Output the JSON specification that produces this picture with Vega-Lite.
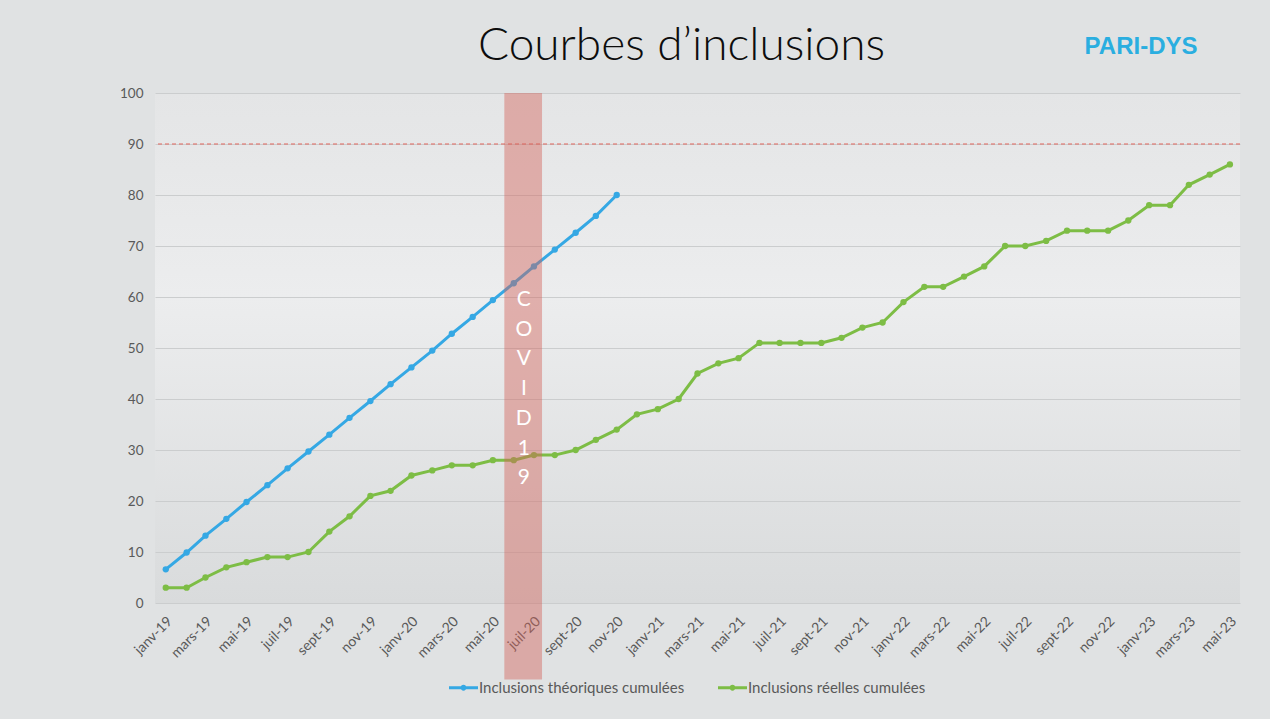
{
  "$schema": "https://vega.github.io/schema/vega-lite/v6.json",
  "width": 1085,
  "height": 510,
  "autosize": {"type": "none"},
  "padding": {"left": 155, "top": 93, "right": 30, "bottom": 116},
  "background": "#e0e2e3",
  "title": {
    "text": "Courbes d’inclusions",
    "font": "Lato",
    "fontSize": 46,
    "fontWeight": 300,
    "color": "#0d0d0d",
    "anchor": "middle",
    "frame": "group",
    "baseline": "alphabetic",
    "offset": -30,
    "dx": -16,
    "dy": 41
  },
  "datasets": {
    "courbes": [
      {"mois": "2019-01-01", "serie": "Inclusions théoriques cumulées", "valeur": 6.6},
      {"mois": "2019-02-01", "serie": "Inclusions théoriques cumulées", "valeur": 9.9},
      {"mois": "2019-03-01", "serie": "Inclusions théoriques cumulées", "valeur": 13.2},
      {"mois": "2019-04-01", "serie": "Inclusions théoriques cumulées", "valeur": 16.5},
      {"mois": "2019-05-01", "serie": "Inclusions théoriques cumulées", "valeur": 19.8},
      {"mois": "2019-06-01", "serie": "Inclusions théoriques cumulées", "valeur": 23.1},
      {"mois": "2019-07-01", "serie": "Inclusions théoriques cumulées", "valeur": 26.4},
      {"mois": "2019-08-01", "serie": "Inclusions théoriques cumulées", "valeur": 29.7},
      {"mois": "2019-09-01", "serie": "Inclusions théoriques cumulées", "valeur": 33.0},
      {"mois": "2019-10-01", "serie": "Inclusions théoriques cumulées", "valeur": 36.3},
      {"mois": "2019-11-01", "serie": "Inclusions théoriques cumulées", "valeur": 39.6},
      {"mois": "2019-12-01", "serie": "Inclusions théoriques cumulées", "valeur": 42.9},
      {"mois": "2020-01-01", "serie": "Inclusions théoriques cumulées", "valeur": 46.2},
      {"mois": "2020-02-01", "serie": "Inclusions théoriques cumulées", "valeur": 49.5},
      {"mois": "2020-03-01", "serie": "Inclusions théoriques cumulées", "valeur": 52.8},
      {"mois": "2020-04-01", "serie": "Inclusions théoriques cumulées", "valeur": 56.1},
      {"mois": "2020-05-01", "serie": "Inclusions théoriques cumulées", "valeur": 59.4},
      {"mois": "2020-06-01", "serie": "Inclusions théoriques cumulées", "valeur": 62.7},
      {"mois": "2020-07-01", "serie": "Inclusions théoriques cumulées", "valeur": 66.0},
      {"mois": "2020-08-01", "serie": "Inclusions théoriques cumulées", "valeur": 69.3},
      {"mois": "2020-09-01", "serie": "Inclusions théoriques cumulées", "valeur": 72.6},
      {"mois": "2020-10-01", "serie": "Inclusions théoriques cumulées", "valeur": 75.9},
      {"mois": "2020-11-01", "serie": "Inclusions théoriques cumulées", "valeur": 80},
      {"mois": "2019-01-01", "serie": "Inclusions réelles cumulées", "valeur": 3},
      {"mois": "2019-02-01", "serie": "Inclusions réelles cumulées", "valeur": 3},
      {"mois": "2019-03-01", "serie": "Inclusions réelles cumulées", "valeur": 5},
      {"mois": "2019-04-01", "serie": "Inclusions réelles cumulées", "valeur": 7},
      {"mois": "2019-05-01", "serie": "Inclusions réelles cumulées", "valeur": 8},
      {"mois": "2019-06-01", "serie": "Inclusions réelles cumulées", "valeur": 9},
      {"mois": "2019-07-01", "serie": "Inclusions réelles cumulées", "valeur": 9},
      {"mois": "2019-08-01", "serie": "Inclusions réelles cumulées", "valeur": 10},
      {"mois": "2019-09-01", "serie": "Inclusions réelles cumulées", "valeur": 14},
      {"mois": "2019-10-01", "serie": "Inclusions réelles cumulées", "valeur": 17},
      {"mois": "2019-11-01", "serie": "Inclusions réelles cumulées", "valeur": 21},
      {"mois": "2019-12-01", "serie": "Inclusions réelles cumulées", "valeur": 22},
      {"mois": "2020-01-01", "serie": "Inclusions réelles cumulées", "valeur": 25},
      {"mois": "2020-02-01", "serie": "Inclusions réelles cumulées", "valeur": 26},
      {"mois": "2020-03-01", "serie": "Inclusions réelles cumulées", "valeur": 27},
      {"mois": "2020-04-01", "serie": "Inclusions réelles cumulées", "valeur": 27},
      {"mois": "2020-05-01", "serie": "Inclusions réelles cumulées", "valeur": 28},
      {"mois": "2020-06-01", "serie": "Inclusions réelles cumulées", "valeur": 28},
      {"mois": "2020-07-01", "serie": "Inclusions réelles cumulées", "valeur": 29},
      {"mois": "2020-08-01", "serie": "Inclusions réelles cumulées", "valeur": 29},
      {"mois": "2020-09-01", "serie": "Inclusions réelles cumulées", "valeur": 30},
      {"mois": "2020-10-01", "serie": "Inclusions réelles cumulées", "valeur": 32},
      {"mois": "2020-11-01", "serie": "Inclusions réelles cumulées", "valeur": 34},
      {"mois": "2020-12-01", "serie": "Inclusions réelles cumulées", "valeur": 37},
      {"mois": "2021-01-01", "serie": "Inclusions réelles cumulées", "valeur": 38},
      {"mois": "2021-02-01", "serie": "Inclusions réelles cumulées", "valeur": 40},
      {"mois": "2021-03-01", "serie": "Inclusions réelles cumulées", "valeur": 45},
      {"mois": "2021-04-01", "serie": "Inclusions réelles cumulées", "valeur": 47},
      {"mois": "2021-05-01", "serie": "Inclusions réelles cumulées", "valeur": 48},
      {"mois": "2021-06-01", "serie": "Inclusions réelles cumulées", "valeur": 51},
      {"mois": "2021-07-01", "serie": "Inclusions réelles cumulées", "valeur": 51},
      {"mois": "2021-08-01", "serie": "Inclusions réelles cumulées", "valeur": 51},
      {"mois": "2021-09-01", "serie": "Inclusions réelles cumulées", "valeur": 51},
      {"mois": "2021-10-01", "serie": "Inclusions réelles cumulées", "valeur": 52},
      {"mois": "2021-11-01", "serie": "Inclusions réelles cumulées", "valeur": 54},
      {"mois": "2021-12-01", "serie": "Inclusions réelles cumulées", "valeur": 55},
      {"mois": "2022-01-01", "serie": "Inclusions réelles cumulées", "valeur": 59},
      {"mois": "2022-02-01", "serie": "Inclusions réelles cumulées", "valeur": 62},
      {"mois": "2022-03-01", "serie": "Inclusions réelles cumulées", "valeur": 62},
      {"mois": "2022-04-01", "serie": "Inclusions réelles cumulées", "valeur": 64},
      {"mois": "2022-05-01", "serie": "Inclusions réelles cumulées", "valeur": 66},
      {"mois": "2022-06-01", "serie": "Inclusions réelles cumulées", "valeur": 70},
      {"mois": "2022-07-01", "serie": "Inclusions réelles cumulées", "valeur": 70},
      {"mois": "2022-08-01", "serie": "Inclusions réelles cumulées", "valeur": 71},
      {"mois": "2022-09-01", "serie": "Inclusions réelles cumulées", "valeur": 73},
      {"mois": "2022-10-01", "serie": "Inclusions réelles cumulées", "valeur": 73},
      {"mois": "2022-11-01", "serie": "Inclusions réelles cumulées", "valeur": 73},
      {"mois": "2022-12-01", "serie": "Inclusions réelles cumulées", "valeur": 75},
      {"mois": "2023-01-01", "serie": "Inclusions réelles cumulées", "valeur": 78},
      {"mois": "2023-02-01", "serie": "Inclusions réelles cumulées", "valeur": 78},
      {"mois": "2023-03-01", "serie": "Inclusions réelles cumulées", "valeur": 82},
      {"mois": "2023-04-01", "serie": "Inclusions réelles cumulées", "valeur": 84},
      {"mois": "2023-05-01", "serie": "Inclusions réelles cumulées", "valeur": 86}
    ],
    "covid": [
      {"debut": "2020-05-18", "fin": "2020-07-13", "haut": 100, "bas": -15, "centre": "2020-06-16", "texte_y": 59.4, "libelle": "C\nO\nV\nI\nD\n1\n9"}
    ],
    "objectif": [
      {"seuil": 90}
    ],
    "logo": [
      {"mois": "2022-12-20", "y": 109, "nom": "PARI-DYS"}
    ]
  },
  "config": {
    "view": {
      "stroke": null,
      "fill": {
        "gradient": "linear",
        "x1": 0, "y1": 0, "x2": 0, "y2": 1,
        "stops": [
          {"offset": 0, "color": "#e4e5e6"},
          {"offset": 0.4, "color": "#ecedee"},
          {"offset": 1, "color": "#d9dbdc"}
        ]
      }
    },
    "font": "Lato",
    "axis": {"labelFont": "Lato", "labelColor": "#595959"}
  },
  "layer": [
    {
      "data": {"name": "objectif"},
      "mark": {"type": "rule", "stroke": "#e0645a", "strokeDash": [4, 3], "strokeWidth": 1.2},
      "encoding": {"y": {"field": "seuil", "type": "quantitative", "scale": {"domain": [0, 100]}}}
    },
    {
      "data": {"name": "courbes"},
      "mark": {"type": "line", "strokeWidth": 3, "point": {"filled": true, "size": 40}},
      "encoding": {
        "x": {
          "field": "mois",
          "type": "temporal",
          "scale": {"type": "utc", "domain": [{"year": 2018, "month": 12, "date": 16, "utc": true}, {"year": 2023, "month": 5, "date": 16, "utc": true}]},
          "axis": {
            "title": null,
            "grid": false,
            "domain": false,
            "ticks": false,
            "tickCount": {"interval": "month", "step": 2},
            "labelAngle": -45,
            "labelAlign": "right",
            "labelBaseline": "middle",
            "labelPadding": 16,
            "labelOffset": 4,
            "labelFontSize": 14,
            "labelOverlap": false,
            "labelFlush": false,
            "labelExpr": "['janv','févr','mars','avr','mai','juin','juil','août','sept','oct','nov','déc'][utcmonth(datum.value)] + '-' + utcFormat(datum.value, '%y')"
          }
        },
        "y": {
          "field": "valeur",
          "type": "quantitative",
          "scale": {"domain": [0, 100]},
          "axis": {
            "title": null,
            "domain": false,
            "ticks": false,
            "values": [0, 10, 20, 30, 40, 50, 60, 70, 80, 90, 100],
            "gridColor": "#cbcdce",
            "gridWidth": 1,
            "labelPadding": 12,
            "labelFontSize": 13.5
          }
        },
        "color": {
          "field": "serie",
          "type": "nominal",
          "scale": {"domain": ["Inclusions théoriques cumulées", "Inclusions réelles cumulées"], "range": ["#35a8e4", "#7dbd45"]},
          "legend": {
            "title": null,
            "orient": "none",
            "legendX": 294,
            "legendY": 580,
            "direction": "horizontal",
            "symbolType": "M-1,-0.1L1,-0.1L1,0.1L-1,0.1Z M0.2,0A0.2,0.2 0 1,1 -0.2,0A0.2,0.2 0 1,1 0.2,0Z",
            "symbolSize": 841,
            "symbolStrokeWidth": 0,
            "labelFont": "Lato",
            "labelFontSize": 15,
            "labelColor": "#595959",
            "labelOffset": 1,
            "labelLimit": 400,
            "columnPadding": 33,
            "encode": {"symbols": {"update": {"fill": {"scale": "color", "field": "value"}}}}
          }
        }
      }
    },
    {
      "data": {"name": "covid"},
      "mark": {"type": "rect", "fill": "#d2645a", "opacity": 0.45},
      "encoding": {
        "x": {"field": "debut", "type": "temporal"},
        "x2": {"field": "fin"},
        "y": {"field": "haut", "type": "quantitative"},
        "y2": {"field": "bas"}
      }
    },
    {
      "data": {"name": "covid"},
      "mark": {"type": "text", "color": "white", "font": "Lato", "fontSize": 21, "lineBreak": "\n", "lineHeight": 29.7, "baseline": "middle", "align": "center"},
      "encoding": {
        "x": {"field": "centre", "type": "temporal"},
        "y": {"field": "texte_y", "type": "quantitative"},
        "text": {"field": "libelle"}
      }
    },
    {
      "data": {"name": "logo"},
      "mark": {"type": "text", "font": "Liberation Sans", "fontWeight": "bold", "fontSize": 24, "color": "#2aaee0", "align": "center", "baseline": "middle"},
      "encoding": {
        "x": {"field": "mois", "type": "temporal"},
        "y": {"field": "y", "type": "quantitative"},
        "text": {"field": "nom"}
      }
    }
  ]
}
